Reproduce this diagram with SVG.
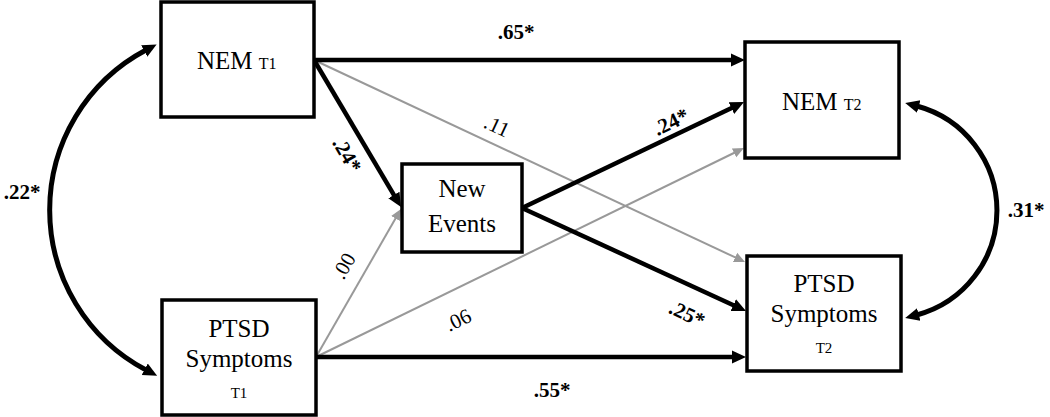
<svg xmlns="http://www.w3.org/2000/svg" width="1050" height="417" viewBox="0 0 1050 417">
<style>
.box{fill:#fff;stroke:#000;stroke-width:3.5}
.t{font-family:"Liberation Serif","Times New Roman",serif;font-size:25px;fill:#000}
.sub{font-size:16px}
.st{font-size:15px}
.lb{font-family:"Liberation Serif","Times New Roman",serif;font-size:21px;fill:#000;text-anchor:middle}
.b{font-weight:bold}
.blk{stroke:#000;stroke-width:4.5;fill:none;marker-end:url(#ah)}
.gry{stroke:#999;stroke-width:2;fill:none;marker-end:url(#ahg)}
.cur{stroke:#000;stroke-width:5;fill:none;marker-start:url(#ah);marker-end:url(#ah)}
</style>
<defs>
<marker id="ah" markerUnits="userSpaceOnUse" viewBox="0 -8 16 16" markerWidth="16" markerHeight="16" refX="2" refY="0" orient="auto-start-reverse"><path d="M0,-6.5 L14,0 L0,6.5 z" fill="#000"/></marker>
<marker id="ahg" markerUnits="userSpaceOnUse" viewBox="0 -6 13 12" markerWidth="13" markerHeight="12" refX="2" refY="0" orient="auto"><path d="M0,-5 L11,0 L0,5 z" fill="#999"/></marker>
</defs>
<g id="connectors">
<line class="gry" x1="314" y1="60" x2="736.9" y2="258.2"/>
<line class="gry" x1="316" y1="357" x2="396.5" y2="216.8"/>
<line class="gry" x1="316" y1="357" x2="735.9" y2="152"/>
<line class="blk" x1="314" y1="60" x2="733" y2="60"/>
<line class="blk" x1="314" y1="60" x2="394.9" y2="196.7"/>
<line class="blk" x1="316" y1="357" x2="734" y2="357"/>
<line class="blk" x1="522" y1="208" x2="733.2" y2="107.2"/>
<line class="blk" x1="522" y1="208" x2="735.1" y2="306"/>
<path class="cur" d="M146,50 A181,181 0 0 0 146.5,370.2"/>
<path class="cur" d="M916.8,106 A108.2,108.2 0 0 1 916.8,315"/>
</g>
<g id="labels">
<text class="lb b" x="516" y="39">.65*</text>
<text class="lb b" x="552" y="397">.55*</text>
<text class="lb b" x="22" y="199">.22*</text>
<text class="lb b" x="1026" y="217">.31*</text>
<text class="lb" transform="translate(497,126) rotate(25)" y="7">.11</text>
<text class="lb b" transform="translate(347,155) rotate(60)" y="7">.24*</text>
<text class="lb b" transform="translate(671,122) rotate(-26)" y="7">.24*</text>
<text class="lb" transform="translate(344,266) rotate(-60)" y="7">.00</text>
<text class="lb" transform="translate(458,320) rotate(-26)" y="7">.06</text>
<text class="lb b" transform="translate(687,314) rotate(25)" y="7">.25*</text>
</g>
<g id="nem-t1">
<rect class="box" x="161" y="2" width="153" height="115"/>
<text class="t" x="197" y="69">NEM <tspan class="sub">T1</tspan></text>
</g>
<g id="ptsd-t1">
<rect class="box" x="162" y="300" width="154" height="115"/>
<text class="t" x="239" y="337" text-anchor="middle">PTSD</text>
<text class="t" x="239" y="367" text-anchor="middle">Symptoms</text>
<text class="t st" x="239" y="398" text-anchor="middle">T1</text>
</g>
<g id="new-events">
<rect class="box" x="402" y="164" width="120" height="88"/>
<text class="t" x="462" y="197" text-anchor="middle">New</text>
<text class="t" x="462" y="232" text-anchor="middle">Events</text>
</g>
<g id="nem-t2">
<rect class="box" x="745" y="42" width="154" height="116"/>
<text class="t" x="782" y="110">NEM <tspan class="sub">T2</tspan></text>
</g>
<g id="ptsd-t2">
<rect class="box" x="747" y="256" width="154" height="115"/>
<text class="t" x="824" y="292" text-anchor="middle">PTSD</text>
<text class="t" x="824" y="322" text-anchor="middle">Symptoms</text>
<text class="t st" x="824" y="353" text-anchor="middle">T2</text>
</g>
</svg>
